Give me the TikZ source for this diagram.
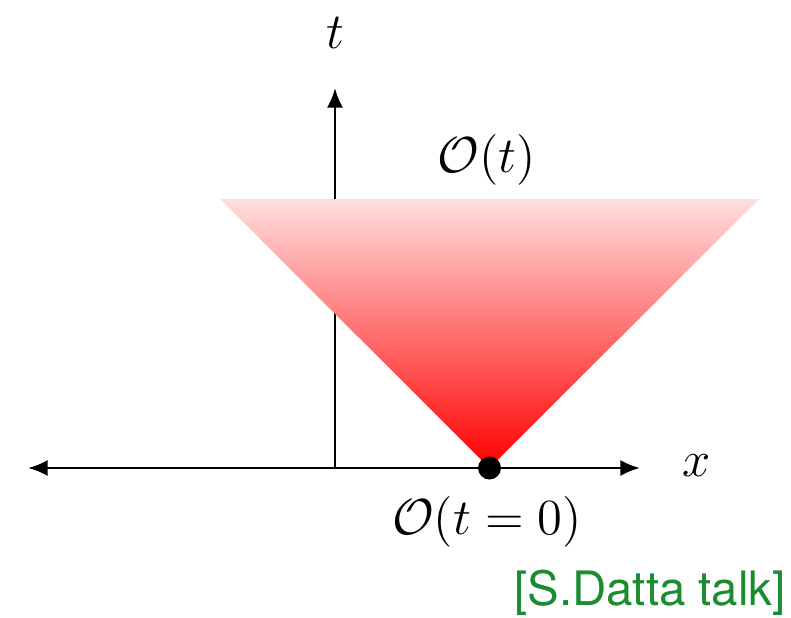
\documentclass[tikz,border=0pt]{standalone}
\usepackage{amsmath}
\usepackage{fontspec}
\usetikzlibrary{arrows.meta}
\newfontfamily\creditfont{TeX Gyre Heros}
\definecolor{lcpink}{RGB}{255,222,222}
\definecolor{lcred}{RGB}{255,0,0}
\definecolor{lcgreen}{RGB}{28,140,48}

\begin{document}
\begin{tikzpicture}[
    >={Latex[length=5.6pt,width=4.6pt]},
    axis/.style={line width=0.75pt},
    lbl/.style={font=\fontsize{15.5}{18.5}\selectfont, inner sep=0pt},
    dot/.style={circle, fill=black, inner sep=0pt, minimum size=0.23cm}]
\useasboundingbox (-3.35,-1.49) rectangle (4.56,4.68);
% Axes
\coordinate (o) at (0,0);
\coordinate (xl) at (-3.07,0);
\coordinate (xr) at (3.05,0);
\coordinate (ty) at (0,3.80);
\draw[axis, <->] (xl) -- (xr);
\draw[axis, ->] (o) -- (ty);
% Light cone
\coordinate (apex) at (1.545,0);
\coordinate (cl) at (-1.15,2.69);
\coordinate (cr) at (4.24,2.69);
\shade[top color=lcpink, bottom color=lcred] (cl) -- (cr) -- (apex) -- cycle;
\node[dot] (src) at (apex) {};
% Labels
\node[lbl] (tlab) at (0,4.35) {$t$};
\node[lbl] (xlab) at (3.62,0.02) {$x$};
\node[lbl] (optop) at (1.52,3.08) {$\mathcal{O}(t)$};
\node[lbl] (opzero) at (1.52,-0.54) {$\mathcal{O}(t=0)$};
\node[font=\creditfont\fontsize{13.5}{16}\selectfont, text=lcgreen, inner sep=0pt] (credit) at (3.15,-1.25) {[S.Datta talk]};
\end{tikzpicture}
\end{document}
